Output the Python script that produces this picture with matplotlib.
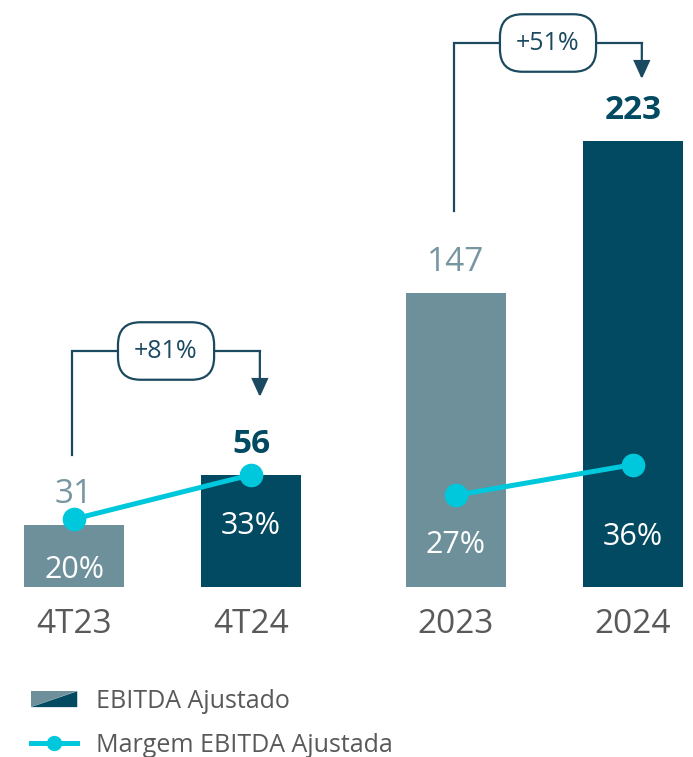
import matplotlib.pyplot as plt
from matplotlib.legend_handler import HandlerBase
from matplotlib.patches import Polygon, Patch
from matplotlib.lines import Line2D

plt.rcParams['font.family'] = ['Open Sans', 'DejaVu Sans']

# dados
periodos = ["4T23", "4T24", "2023", "2024"]
ebitda = [31, 56, 147, 223]
margem = [20, 33, 27, 36]
variacao = ["+81%", "+51%"]
destaque = [False, True, False, True]

# layout / estilo
posicoes = [0, 1, 2.158, 3.158]
cor_clara = "#6e909b"
cor_escura = "#024a62"
cor_rotulo_claro = "#7896a1"
cor_linha = "#00c8dc"
cor_seta = "#1b4a60"
cor_texto = "#595959"
desloc_pct = [-37, -37, -36, -52]
# (folga inicio, folga topo, folga ponta) em unidades do eixo
folgas_seta = [(35, 62, 39), (41, 49, 31)]


class HandlerBarraDividida(HandlerBase):
    def create_artists(self, legend, orig_handle, xdescent, ydescent,
                       width, height, fontsize, trans):
        x0, y0 = -xdescent, -ydescent
        claro = Polygon([[x0, y0], [x0, y0 + height], [x0 + width, y0 + height]],
                        closed=True, fc=cor_clara, ec="none", transform=trans)
        escuro = Polygon([[x0, y0], [x0 + width, y0 + height], [x0 + width, y0]],
                         closed=True, fc=cor_escura, ec="none", transform=trans)
        return [claro, escuro]


def seta_variacao(ax, x0, x1, y0, ytopo, yponta, texto):
    ax.plot([x0, x0, x1], [y0, ytopo, ytopo], color=cor_seta, lw=1.6,
            solid_joinstyle="miter", zorder=3)
    ax.annotate("", xy=(x1, yponta), xytext=(x1, ytopo),
                arrowprops=dict(arrowstyle="-|>,head_length=0.55,head_width=0.25",
                                color=cor_seta, lw=1.6, shrinkA=0, shrinkB=0,
                                mutation_scale=20, joinstyle="miter"),
                zorder=3)
    ax.text((x0 + x1) / 2, ytopo, texto, ha="center", va="center",
            fontsize=18, color=cor_seta, zorder=4,
            bbox=dict(boxstyle="round,pad=0.65,rounding_size=0.9",
                      fc="white", ec=cor_seta, lw=1.6))


fig = plt.figure(figsize=(6.93, 7.57), dpi=100)
ax = fig.add_axes([0, (757 - 587) / 757, 1, 587 / 757])
ax2 = ax.twinx()

cores = [cor_clara, cor_escura, cor_clara, cor_escura]
ax.bar(posicoes, ebitda, width=0.565, color=cores, zorder=2)

for x, v, d, c in zip(posicoes, ebitda, destaque, cores):
    ax.annotate(str(v), (x, v), xytext=(0, 10), textcoords="offset points",
                ha="center", va="bottom", fontsize=24,
                fontweight="bold" if d else "normal",
                color=cor_escura if d else cor_rotulo_claro)

# margem: dois segmentos (trimestre e ano)
for i in (0, 2):
    ax2.plot(posicoes[i:i + 2], margem[i:i + 2], color=cor_linha, lw=3.6,
             marker="o", markersize=16, solid_capstyle="round")

for x, m, off in zip(posicoes, margem, desloc_pct):
    ax2.annotate(f"{m}%", (x, m), xytext=(0, off), textcoords="offset points",
                 ha="center", va="center", fontsize=22, color="white")

for k, i in enumerate((0, 2)):
    f0, ft, fp = folgas_seta[k]
    seta_variacao(ax, posicoes[i] - 0.01, posicoes[i + 1] + 0.05,
                  ebitda[i] + f0, ebitda[i + 1] + ft, ebitda[i + 1] + fp,
                  variacao[k])

ax.set_xlim(-74 / 177, (693 - 74) / 177)
ax.set_ylim(0, 587 / 2)
ax2.set_ylim(0, 587 / 3.4)

ax.set_xticks(posicoes)
ax.set_xticklabels(periodos, fontsize=24, color=cor_texto)
ax.tick_params(axis="x", length=0, pad=15)
ax.set_yticks([])
ax2.set_yticks([])
for a in (ax, ax2):
    for s in a.spines.values():
        s.set_visible(False)

h_barra = Patch()
h_linha = Line2D([], [], color=cor_linha, lw=3.6, marker="o", markersize=10)
fig.legend([h_barra, h_linha], ["EBITDA Ajustado", "Margem EBITDA Ajustada"],
           handler_map={h_barra: HandlerBarraDividida()},
           loc="upper left", bbox_to_anchor=(31 / 693, 1 - 689 / 757),
           frameon=False, borderpad=0, borderaxespad=0, fontsize=18,
           handlelength=1.85, handleheight=0.6, handletextpad=0.76,
           labelspacing=0.75, labelcolor=cor_texto, numpoints=1)

fig.savefig("out.png", dpi=100)
